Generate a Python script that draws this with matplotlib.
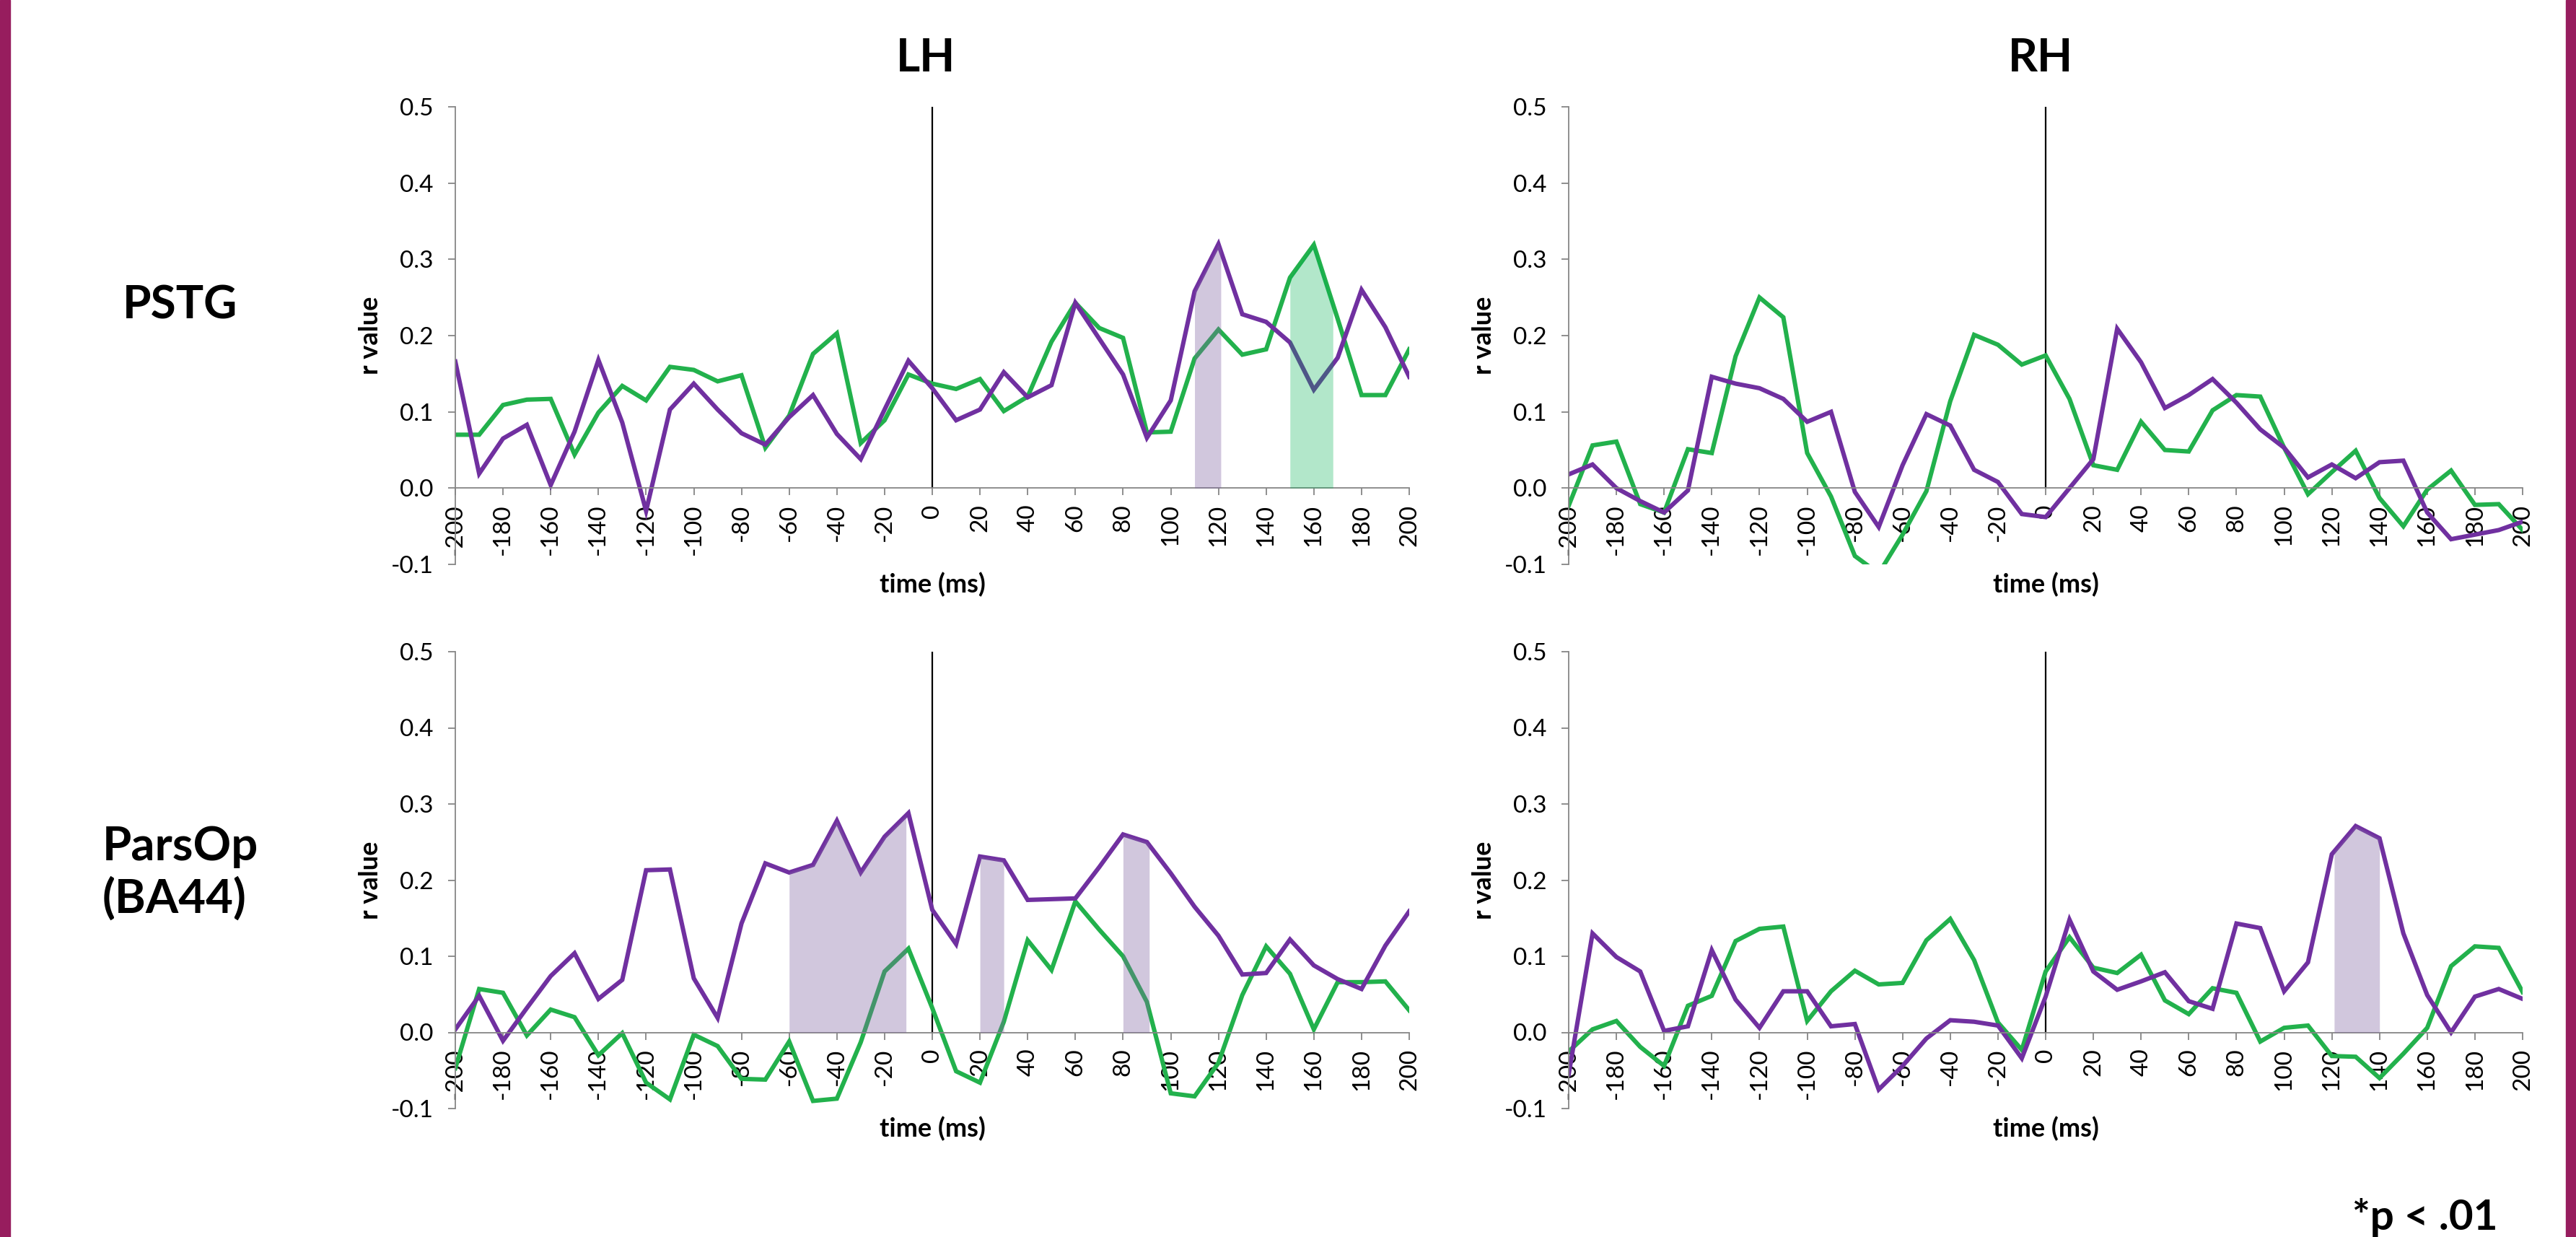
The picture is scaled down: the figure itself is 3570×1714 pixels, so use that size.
import numpy as np
import matplotlib
matplotlib.use("Agg")
import matplotlib.pyplot as plt
from matplotlib.patches import Rectangle

plt.rcParams['font.family'] = ['Lato', 'DejaVu Sans']

# ---------------- data ----------------
time_ms = list(range(-200, 201, 10))
xticks = list(range(-200, 201, 20))
yticks = [-0.1, 0.0, 0.1, 0.2, 0.3, 0.4, 0.5]

lh_pstg_green = [0.070, 0.070, 0.109, 0.116, 0.117, 0.044, 0.099, 0.134, 0.115, 0.159,
                 0.155, 0.140, 0.148, 0.053, 0.095, 0.176, 0.203, 0.059, 0.089, 0.149,
                 0.137, 0.130, 0.143, 0.101, 0.120, 0.192, 0.243, 0.210, 0.197, 0.073,
                 0.074, 0.170, 0.208, 0.175, 0.182, 0.276, 0.319, 0.222, 0.122, 0.122, 0.182]
lh_pstg_purple = [0.166, 0.019, 0.065, 0.083, 0.004, 0.074, 0.168, 0.086, -0.030, 0.103,
                  0.137, 0.103, 0.072, 0.057, 0.093, 0.122, 0.071, 0.038, 0.103, 0.167,
                  0.131, 0.089, 0.103, 0.152, 0.119, 0.135, 0.243, 0.196, 0.149, 0.066,
                  0.115, 0.258, 0.320, 0.228, 0.218, 0.191, 0.129, 0.171, 0.260, 0.211, 0.146]

rh_pstg_green = [-0.023, 0.056, 0.061, -0.021, -0.032, 0.051, 0.046, 0.173, 0.250, 0.224,
                 0.046, -0.011, -0.089, -0.112, -0.061, -0.004, 0.114, 0.201, 0.188, 0.162,
                 0.174, 0.117, 0.030, 0.024, 0.087, 0.050, 0.048, 0.102, 0.122, 0.120,
                 0.053, -0.008, 0.021, 0.049, -0.013, -0.050, -0.002, 0.023, -0.022, -0.021, -0.055]
rh_pstg_purple = [0.018, 0.031, 0.000, -0.017, -0.032, -0.003, 0.146, 0.137, 0.131, 0.117,
                  0.087, 0.100, -0.005, -0.051, 0.030, 0.097, 0.082, 0.024, 0.008, -0.034,
                  -0.038, 0.000, 0.038, 0.209, 0.165, 0.105, 0.122, 0.143, 0.112, 0.077,
                  0.053, 0.014, 0.031, 0.013, 0.034, 0.036, -0.032, -0.067, -0.061, -0.055, -0.044]

lh_pars_green = [-0.047, 0.057, 0.052, -0.004, 0.030, 0.020, -0.030, -0.001, -0.066, -0.088,
                 -0.003, -0.018, -0.061, -0.062, -0.012, -0.090, -0.087, -0.013, 0.080, 0.110,
                 0.032, -0.051, -0.066, 0.014, 0.121, 0.082, 0.172, 0.135, 0.100, 0.040,
                 -0.080, -0.084, -0.040, 0.049, 0.113, 0.077, 0.004, 0.066, 0.066, 0.067, 0.029]
lh_pars_purple = [0.004, 0.048, -0.011, 0.032, 0.074, 0.104, 0.044, 0.069, 0.213, 0.214,
                  0.071, 0.019, 0.143, 0.222, 0.210, 0.220, 0.278, 0.210, 0.257, 0.288,
                  0.161, 0.116, 0.231, 0.226, 0.174, 0.175, 0.176, 0.217, 0.260, 0.250,
                  0.209, 0.165, 0.127, 0.076, 0.078, 0.122, 0.088, 0.070, 0.057, 0.114, 0.159]

rh_pars_green = [-0.025, 0.004, 0.015, -0.019, -0.044, 0.035, 0.048, 0.120, 0.136, 0.139,
                 0.015, 0.054, 0.081, 0.063, 0.065, 0.121, 0.149, 0.095, 0.013, -0.023,
                 0.080, 0.125, 0.085, 0.078, 0.102, 0.042, 0.024, 0.058, 0.052, -0.012,
                 0.006, 0.009, -0.031, -0.032, -0.060, -0.028, 0.006, 0.087, 0.113, 0.111, 0.053]
rh_pars_purple = [-0.055, 0.130, 0.099, 0.080, 0.002, 0.008, 0.108, 0.043, 0.006, 0.054,
                  0.054, 0.008, 0.011, -0.075, -0.044, -0.008, 0.016, 0.014, 0.009, -0.034,
                  0.047, 0.148, 0.080, 0.056, 0.067, 0.079, 0.041, 0.031, 0.143, 0.137,
                  0.054, 0.092, 0.234, 0.271, 0.255, 0.130, 0.049, 0.000, 0.047, 0.057, 0.044]

# significant windows (ms)
lh_pstg_purple_sig = [(110, 121)]
lh_pstg_green_sig = [(150, 168)]
rh_pstg_purple_sig = []
rh_pstg_green_sig = []
lh_pars_purple_sig = [(-60, -11), (20, 30), (80, 91)]
lh_pars_green_sig = []
rh_pars_purple_sig = [(121, 140)]
rh_pars_green_sig = []

col_titles = ["LH", "RH"]
row_titles = ["PSTG", "ParsOp\n(BA44)"]
footnote = "*p < .01"

# ---------------- style ----------------
GREEN = "#22B14C"
PURPLE = "#7030A0"
SHADE_P = "#8064A2"
SHADE_G = "#00B050"
AXIS_GRAY = "#868686"
MAROON = "#971D5E"

W, H = 3570, 1714
fig = plt.figure(figsize=(W / 100, H / 100), dpi=100)

# axes rectangles in pixels: left, right, top(0.5), bottom(-0.1)
lefts = [631, 2174]
rights = [1953, 3496]
tops = [148, 903]
bottoms = [782, 1536]

panels = [
    [(lh_pstg_green, lh_pstg_purple, lh_pstg_green_sig, lh_pstg_purple_sig),
     (rh_pstg_green, rh_pstg_purple, rh_pstg_green_sig, rh_pstg_purple_sig)],
    [(lh_pars_green, lh_pars_purple, lh_pars_green_sig, lh_pars_purple_sig),
     (rh_pars_green, rh_pars_purple, rh_pars_green_sig, rh_pars_purple_sig)],
]

xf = np.linspace(-200, 200, 4001)

for r in range(2):
    for c in range(2):
        l, rr = lefts[c], rights[c]
        t, b = tops[r], bottoms[r]
        ax = fig.add_axes([l / W, 1 - b / H, (rr - l) / W, (b - t) / H])
        g, p, gsig, psig = panels[r][c]
        ax.set_xlim(-200, 200)
        ax.set_ylim(-0.1, 0.5)
        ax.vlines(0, 0, 0.5, color="black", lw=1.6, zorder=1.5)
        ax.plot(time_ms, g, color=GREEN, lw=4.4, zorder=2, solid_joinstyle="miter")
        ax.plot(time_ms, p, color=PURPLE, lw=4.4, zorder=2.1, solid_joinstyle="miter")
        gf = np.interp(xf, time_ms, g)
        pf = np.interp(xf, time_ms, p)
        for a, e in psig:
            m = (xf >= a) & (xf <= e)
            ax.fill_between(xf[m], 0, pf[m], color=SHADE_P, alpha=0.36, lw=0, zorder=3)
        for a, e in gsig:
            m = (xf >= a) & (xf <= e)
            ax.fill_between(xf[m], 0, gf[m], color=SHADE_G, alpha=0.30, lw=0, zorder=3)

        for s in ["top", "right"]:
            ax.spines[s].set_visible(False)
        ax.spines["bottom"].set_position(("data", 0))
        for s in ["bottom", "left"]:
            ax.spines[s].set_color(AXIS_GRAY)
            ax.spines[s].set_linewidth(1.3)
        ax.set_xticks(xticks)
        ax.set_xticklabels([str(v) for v in xticks], rotation=90)
        ax.set_yticks(yticks)
        ax.set_yticklabels([f"{v:.1f}" for v in yticks])
        ax.tick_params(axis="both", direction="out", length=7, width=1.3,
                       color=AXIS_GRAY, labelsize=24, labelcolor="black")
        ax.tick_params(axis="x", pad=9)
        ax.tick_params(axis="y", pad=15)
        ax.patch.set_alpha(0)
        ax.text(-0.089, 0.5, "r value", rotation=90, ha="center", va="center",
                transform=ax.transAxes, fontsize=26, fontweight="bold")
        ax.text(0.5, -0.044, "time (ms)", ha="center", va="center",
                transform=ax.transAxes, fontsize=26, fontweight="bold")

# column titles
fig.text(1283 / W, 1 - 99 / H, col_titles[0], ha="center", va="baseline",
         fontsize=46, fontweight="bold")
fig.text(2828 / W, 1 - 99 / H, col_titles[1], ha="center", va="baseline",
         fontsize=46, fontweight="bold")
# row titles
fig.text(250 / W, 1 - 442 / H, row_titles[0], ha="center", va="baseline",
         fontsize=46, fontweight="bold")
fig.text(250 / W, 1 - 1210 / H, row_titles[1], ha="center", va="center",
         fontsize=47, fontweight="bold", multialignment="left", linespacing=1.22)
# footnote
fig.text(3361 / W, 1 - 1704 / H, footnote, ha="center", va="baseline",
         fontsize=42, fontweight="bold")

# side bars
fig.patches.append(Rectangle((0, 0), 14 / W, 1, transform=fig.transFigure,
                             color=MAROON, zorder=0))
fig.patches.append(Rectangle(((W - 14) / W, 0), 14 / W, 1, transform=fig.transFigure,
                             color=MAROON, zorder=0))

fig.savefig("out.png", dpi=100, facecolor="white")
